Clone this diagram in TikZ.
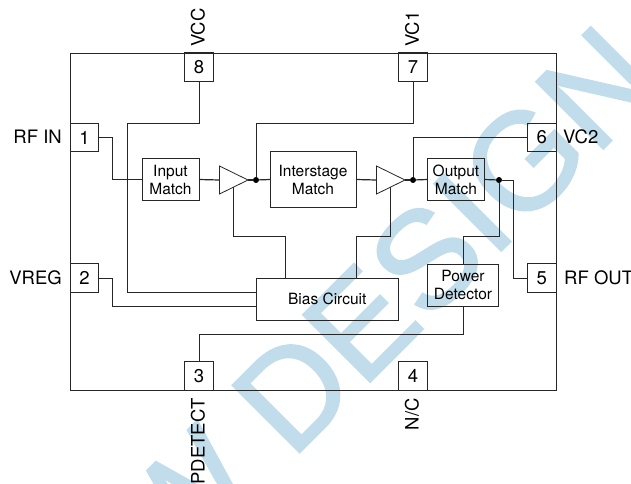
\documentclass[tikz,border=0pt]{standalone}
\usepackage{fontspec}
\setmainfont{TeX Gyre Heros}
\newfontfamily\markfont[FakeBold=1.5]{Liberation Sans}
\usetikzlibrary{shapes.geometric}
\definecolor{markblue}{HTML}{C1DDEB}
\tikzset{
  wire/.style={line width=0.8pt, black!85},
  signal/.style={line width=1.2pt, black!85},
  pin/.style={draw=black!85, line width=0.8pt, minimum size=28.5pt, inner sep=0pt, outer sep=0pt, font=\fontsize{18.5}{20}\selectfont},
  block/.style={draw=black!85, line width=0.8pt, inner sep=0pt, outer sep=0pt, align=center, font=\fontsize{15.5}{18}\selectfont},
  amp/.style={draw=black!85, line width=0.8pt, isosceles triangle, isosceles triangle stretches, minimum width=28pt, minimum height=28.5pt, inner sep=0pt, outer sep=0pt, anchor=lower side},
  joint/.style={circle, fill=black, minimum size=6pt, inner sep=0pt, outer sep=0pt},
  pinlabel/.style={inner sep=0pt, font=\fontsize{18.5}{20}\selectfont}
}
\begin{document}
\begin{tikzpicture}[x=1pt, y=-1pt]
\clip (0,0) rectangle (631,483);

\node[text=markblue, anchor=base east, rotate=45, inner sep=0pt, font=\markfont\fontsize{138}{138}\selectfont] (watermark) at (666,86) {W DESIGN};

\node[draw=black!85, line width=0.8pt, minimum width=485.5pt, minimum height=337pt, inner sep=0pt, outer sep=0pt] (chip) at (313.25,221.5) {};

\node[pin] (pin1) at (84.5,137.5) {1};
\node[pin] (pin2) at (84.5,278) {2};
\node[pin] (pin3) at (199,376) {3};
\node[pin] (pin4) at (413,376) {4};
\node[pin] (pin5) at (541.75,278) {5};
\node[pin] (pin6) at (541.75,137.5) {6};
\node[pin] (pin7) at (413,67) {7};
\node[pin] (pin8) at (199,67) {8};

\node[pinlabel, anchor=east] (rfin) at (62,137) {RF IN};
\node[pinlabel, anchor=east] (vreg) at (62,278) {VREG};
\node[pinlabel, anchor=west] (vctwo) at (563,137) {VC2};
\node[pinlabel, anchor=west] (rfout) at (564,278) {RF OUT};
\node[pinlabel, anchor=west, rotate=90] (vcc) at (198,47) {VCC};
\node[pinlabel, anchor=west, rotate=90] (vcone) at (412,47) {VC1};
\node[pinlabel, anchor=east, rotate=90] (pdetect) at (198,398) {PDETECT};
\node[pinlabel, anchor=east, rotate=90] (nc) at (412,398) {N/C};

\node[block, minimum width=57pt, minimum height=42pt] (inmatch) at (170.5,179.5) {Input\\Match};
\node[block, minimum width=86pt, minimum height=56pt] (interstage) at (313,179.5) {Interstage\\Match};
\node[block, minimum width=57pt, minimum height=42pt] (outmatch) at (456,179.5) {Output\\Match};
\node[block, minimum width=71pt, minimum height=42pt] (power) at (463,285) {Power\\Detector};
\node[block, minimum width=142.5pt, minimum height=42pt] (bias) at (327.25,299) {Bias Circuit};

\node[amp] (ampa) at (219.5,180) {};
\node[amp] (ampb) at (376.5,180) {};
\node[joint] (jointa) at (256,180) {};
\node[joint] (jointb) at (413,180) {};
\node[joint] (jointc) at (499,180) {};

\coordinate (bus) at (127.5,123.5);
\coordinate (biasvcc) at (256,292);
\coordinate (biasvreg) at (256,306);
\coordinate (biasa) at (285,278);
\coordinate (biasb) at (356,278);

\draw[wire] (pin1.east) -- ++(14,0) |- (inmatch.west);
\draw[wire] (pin2.east) -- ++(14,0) |- (biasvreg);
\draw[wire] (pin8.south) |- (bus) |- (biasvcc);
\draw[wire] (pin7.south) -- ++(0,42.5) -| (jointa);
\draw[wire] (pin6.west) -| (jointb);
\draw[wire] (jointc) -- ++(14,0) |- (pin5.west);
\draw[wire] (jointc) -- ++(0,56) -| (power.north);
\draw[wire] (power.south) -- ++(0,28) -| (pin3.north);
\draw[wire] (ampa.right side) -- ++(0,49) -| (biasa);
\draw[wire] (ampb.right side) -- ++(0,49) -| (biasb);

\draw[signal] (inmatch.east) -- (ampa.lower side);
\draw[signal] (ampa.apex) -- (jointa);
\draw[signal] (jointa) -- (interstage.west);
\draw[signal] (interstage.east) -- (ampb.lower side);
\draw[signal] (ampb.apex) -- (jointb);
\draw[signal] (jointb) -- (outmatch.west);
\draw[signal] (outmatch.east) -- (jointc);

\end{tikzpicture}
\end{document}
